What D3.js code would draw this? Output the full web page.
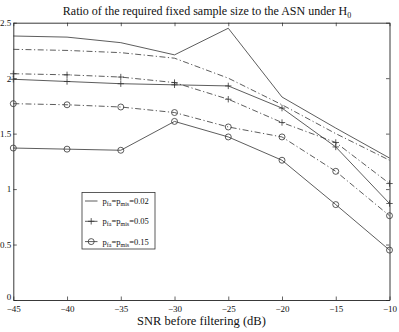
<!DOCTYPE html>
<html>
<head>
<meta charset="utf-8">
<script src="https://cdn.jsdelivr.net/npm/d3@7"></script>
<style>
  body { margin: 0; background: #fff; }
  svg { display: block; font-family: "Liberation Serif", "DejaVu Serif", serif; }
</style>
</head>
<body>
<div id="chart"></div>
<script>
// SNR values (dB)
const snr = [-45, -40, -35, -30, -25, -20, -15, -10];
// solid lines
const solid002 = [2.38, 2.37, 2.32, 2.21, 2.45, 1.83, 1.55, 1.28];
const solid005 = [1.99, 1.97, 1.95, 1.94, 1.93, 1.73, 1.38, 0.87];
const solid015 = [1.37, 1.36, 1.35, 1.61, 1.47, 1.26, 0.86, 0.45];
// dash-dot lines
const dash002 = [2.26, 2.25, 2.23, 2.18, 2.00, 1.76, 1.50, 1.26];
const dash005 = [2.04, 2.03, 2.01, 1.96, 1.81, 1.60, 1.42, 1.05];
const dash015 = [1.77, 1.76, 1.74, 1.69, 1.56, 1.47, 1.16, 0.76];

const xTicks = [-45, -40, -35, -30, -25, -20, -15, -10];
const yTicks = [0, 0.5, 1, 1.5, 2, 2.5];
const legendLabels = ["0.02", "0.05", "0.15"];

const series = [
  { vals: solid002, dash: null, marker: "none" },
  { vals: dash002, dash: "6,2.5,1.2,2.5", marker: "none" },
  { vals: solid005, dash: null, marker: "plus" },
  { vals: dash005, dash: "6,2.5,1.2,2.5", marker: "plus" },
  { vals: solid015, dash: null, marker: "circle" },
  { vals: dash015, dash: "6,2.5,1.2,2.5", marker: "circle" }
];

const width = 399, height = 332;
const margin = { top: 22.7, right: 9.5, bottom: 32, left: 13.3 };

const x = d3.scaleLinear().domain([-45, -10]).range([margin.left, width - margin.right]);
const y = d3.scaleLinear().domain([0, 2.5]).range([height - margin.bottom, margin.top]);

const svg = d3.select("#chart").append("svg")
  .attr("width", width).attr("height", height)
  .attr("viewBox", [0, 0, width, height]);

const lineColor = "#333";

// axes, MATLAB style box with inward ticks
const tk = 3.5;
svg.append("g")
  .attr("transform", `translate(0,${y(0)})`)
  .call(d3.axisBottom(x).tickValues(xTicks).tickSize(-tk).tickPadding(6).tickSizeOuter(0))
  .call(g => g.selectAll("text").attr("font-size", 9).attr("font-family", "Liberation Serif").attr("fill", "#111"));
svg.append("g")
  .attr("transform", `translate(0,${y(2.5)})`)
  .call(d3.axisTop(x).tickValues(xTicks).tickSize(-tk).tickFormat("").tickSizeOuter(0));
svg.append("g")
  .attr("transform", `translate(${x(-45)},0)`)
  .call(d3.axisLeft(y).tickValues(yTicks).tickSize(-tk).tickPadding(2).tickFormat(d => d).tickSizeOuter(0))
  .call(g => g.selectAll("text").attr("font-size", 9).attr("font-family", "Liberation Serif").attr("fill", "#111"))
  .call(g => g.selectAll(".tick").filter(d => d === 0).select("text").attr("dy", "-0.1em"));
svg.append("g")
  .attr("transform", `translate(${x(-10)},0)`)
  .call(d3.axisRight(y).tickValues(yTicks).tickSize(-tk).tickFormat("").tickSizeOuter(0));
svg.selectAll(".domain").attr("stroke", "#222").attr("stroke-width", 0.9);
svg.selectAll(".tick line").attr("stroke", "#222").attr("stroke-width", 0.7);

// lines
const line = d3.line().x((d, i) => x(snr[i])).y(d => y(d));

series.forEach(s => {
  svg.append("path")
    .datum(s.vals)
    .attr("fill", "none")
    .attr("stroke", lineColor)
    .attr("stroke-width", 0.8)
    .attr("stroke-dasharray", s.dash)
    .attr("d", line);
  drawMarkers(svg, s.vals.map((v, i) => [x(snr[i]), y(v)]), s.marker);
});

function drawMarkers(g, pts, type) {
  if (type === "plus") {
    const r = 3.2;
    g.append("g").selectAll("path").data(pts).join("path")
      .attr("d", p => `M${p[0] - r},${p[1]}H${p[0] + r}M${p[0]},${p[1] - r}V${p[1] + r}`)
      .attr("stroke", lineColor).attr("stroke-width", 0.8).attr("fill", "none");
  } else if (type === "circle") {
    g.append("g").selectAll("circle").data(pts).join("circle")
      .attr("cx", p => p[0]).attr("cy", p => p[1]).attr("r", 3)
      .attr("stroke", lineColor).attr("stroke-width", 0.8).attr("fill", "none");
  }
}

// title
const title = svg.append("text")
  .attr("x", 207).attr("y", 15)
  .attr("text-anchor", "middle")
  .attr("font-size", 12).attr("fill", "#111");
title.append("tspan").text("Ratio of the required fixed sample size to the ASN under H");
title.append("tspan").attr("font-size", 8).attr("dy", 3).text("0");

// x label
svg.append("text")
  .attr("x", (x(-45) + x(-10)) / 2).attr("y", 325)
  .attr("text-anchor", "middle")
  .attr("font-size", 12.5).attr("fill", "#111")
  .text("SNR before filtering (dB)");

// legend
const lg = svg.append("g");
lg.append("rect")
  .attr("x", 82).attr("y", 192.5).attr("width", 73).attr("height", 56.5)
  .attr("fill", "#fff").attr("stroke", "#333").attr("stroke-width", 0.8);
const legMarkers = ["none", "plus", "circle"];
legendLabels.forEach((lab, i) => {
  const ly = 201 + i * 20.3;
  lg.append("line")
    .attr("x1", 85).attr("x2", 97.5).attr("y1", ly).attr("y2", ly)
    .attr("stroke", lineColor).attr("stroke-width", 0.8);
  drawMarkers(lg, [[91.2, ly]], legMarkers[i]);
  const t = lg.append("text").attr("x", 102.5).attr("y", ly + 3)
    .attr("font-size", 8.5).attr("fill", "#111");
  t.append("tspan").text("p");
  t.append("tspan").attr("font-size", 6).attr("dy", 2).text("fa");
  t.append("tspan").attr("dy", -2).text("=p");
  t.append("tspan").attr("font-size", 6).attr("dy", 2).text("mis");
  t.append("tspan").attr("dy", -2).text("=" + lab);
});
</script>
</body>
</html>
